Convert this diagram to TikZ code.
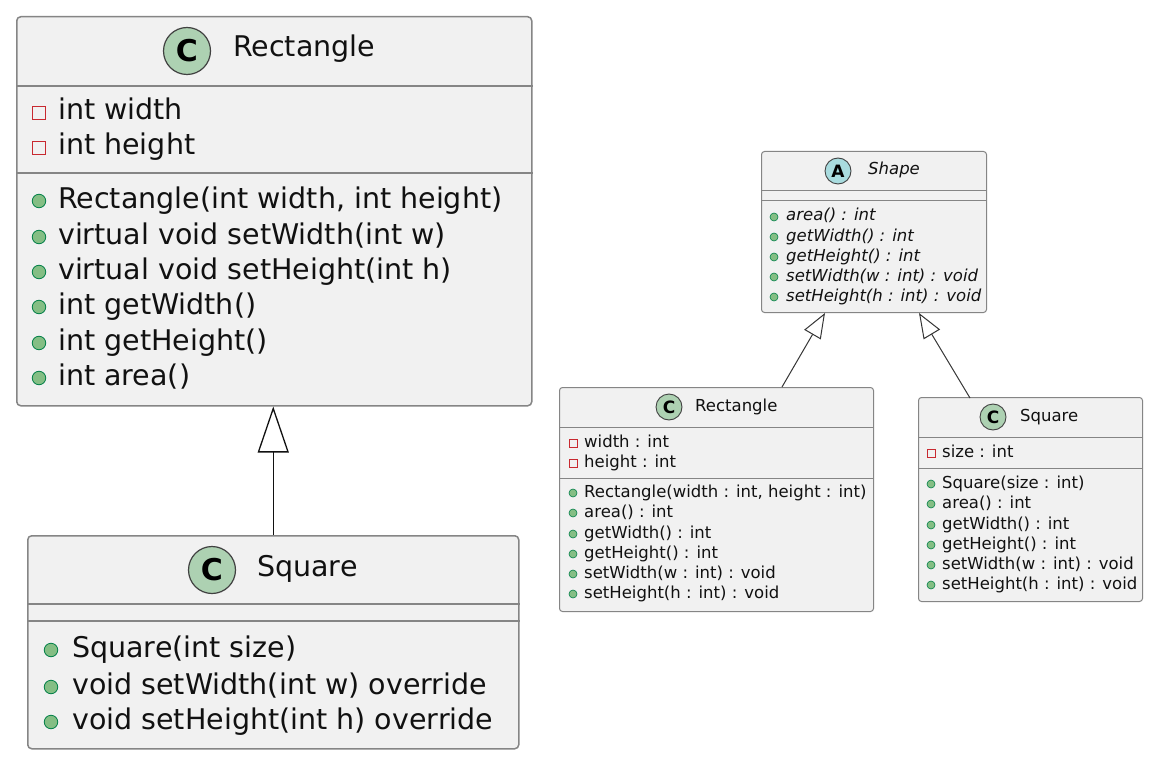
\documentclass[tikz,border=0pt]{standalone}
\usepackage{fontspec}
\setmainfont{DejaVu Sans}
\usetikzlibrary{arrows.meta,calc}
\definecolor{boxfill}{HTML}{F1F1F1}
\definecolor{boxline}{HTML}{858585}
\definecolor{cfill}{HTML}{ADD1B2}
\definecolor{afill}{HTML}{A9DCDF}
\definecolor{dotfill}{HTML}{84BE84}
\definecolor{dotline}{HTML}{038048}
\definecolor{privline}{HTML}{C82930}
\definecolor{ink}{HTML}{111111}
\tikzset{
  clsbig/.style={draw=boxline, fill=boxfill, rounded corners=4pt, line width=1.5pt, anchor=north west, inner sep=0pt},
  clssm/.style={draw=boxline, fill=boxfill, rounded corners=3pt, line width=1pt, anchor=north west, inner sep=0pt},
  sepbig/.style={draw=boxline, line width=1.5pt},
  sepsm/.style={draw=boxline, line width=1pt},
  bigtxt/.style={font=\fontsize{28.5}{34}\selectfont, anchor=west, inner sep=0pt, text height=20pt, text depth=6pt, text=ink},
  smtxt/.style={font=\fontsize{16.5}{20}\selectfont, anchor=west, inner sep=0pt, text height=11.5pt, text depth=3.5pt, text=ink},
  pubbig/.style={circle, fill=dotfill, draw=dotline, line width=0.8pt, minimum size=13.5pt, inner sep=0pt},
  pubsm/.style={circle, fill=dotfill, draw=dotline, line width=0.6pt, minimum size=8pt, inner sep=0pt},
  privbig/.style={rectangle, draw=privline, line width=1.3pt, minimum size=13pt, inner sep=0pt},
  privsm/.style={rectangle, draw=privline, line width=0.9pt, minimum size=8pt, inner sep=0pt},
  cbig/.style={circle, fill=cfill, draw=ink!80, line width=1.2pt, minimum size=47pt, inner sep=0pt, font=\fontsize{30}{30}\selectfont\bfseries, text=black},
  csm/.style={circle, fill=cfill, draw=ink!80, line width=0.9pt, minimum size=26pt, inner sep=0pt, font=\fontsize{17}{17}\selectfont\bfseries, text=black},
  asm/.style={circle, fill=afill, draw=ink!80, line width=0.9pt, minimum size=26pt, inner sep=0pt, font=\fontsize{17}{17}\selectfont\bfseries, text=black},
  inhbig/.style={draw=ink, line width=1.3pt, -{Triangle[open, length=46pt, width=31pt]}},
  inhsm/.style={draw=ink!85, line width=1pt, -{Triangle[open, length=25pt, width=19pt]}},
}
\begin{document}
\begin{tikzpicture}[x=1pt, y=-1pt]
\useasboundingbox (0,0) rectangle (1151,762);
\fill[white] (0,0) rectangle (1151,762);

% ---------- Left Rectangle ----------
\node[clsbig, minimum width=515pt, minimum height=389pt] (recL) at (16,16) {};
\draw[sepbig] ([yshift=-70pt]recL.north west) -- ([yshift=-70pt]recL.north east);
\draw[sepbig] ([yshift=-157pt]recL.north west) -- ([yshift=-157pt]recL.north east);
\node[cbig] (recLc) at (187,51) {C};
\node[bigtxt] (recLt) at (233,50) {Rectangle};
\foreach \y/\t [count=\i] in {113/{int width},148/{int height}}{
  \node[privbig] (recLai\i) at (39,\y) {};
  \node[bigtxt] (recLa\i) at (58,\y) {\t};
}
\foreach \y/\t [count=\i] in {201/{Rectangle(int width, int height)},237/{virtual void setWidth(int w)},272/{virtual void setHeight(int h)},307/{int getWidth()},343/{int getHeight()},378/{int area()}}{
  \node[pubbig] (recLmi\i) at (39,\y) {};
  \node[bigtxt] (recLm\i) at (58,\y) {\t};
}

% ---------- Left Square ----------
\node[clsbig, minimum width=491pt, minimum height=213pt] (sqL) at (27,535) {};
\draw[sepbig] ([yshift=-69pt]sqL.north west) -- ([yshift=-69pt]sqL.north east);
\draw[sepbig] ([yshift=-86pt]sqL.north west) -- ([yshift=-86pt]sqL.north east);
\node[cbig] (sqLc) at (212,570) {C};
\node[bigtxt] (sqLt) at (257,569) {Square};
\foreach \y/\t [count=\i] in {650/{Square(int size)},687/{void setWidth(int w) override},722/{void setHeight(int h) override}}{
  \node[pubbig] (sqLmi\i) at (51,\y) {};
  \node[bigtxt] (sqLm\i) at (72,\y) {\t};
}

\draw[inhbig] (sqL.north) -- (sqL.north |- recL.south);

% ---------- Shape ----------
\node[clssm, minimum width=225pt, minimum height=161pt] (shp) at (761,151) {};
\draw[sepsm] ([yshift=-40pt]shp.north west) -- ([yshift=-40pt]shp.north east);
\draw[sepsm] ([yshift=-50pt]shp.north west) -- ([yshift=-50pt]shp.north east);
\node[asm] (shpc) at (838,171) {A};
\node[smtxt, font=\fontsize{16.5}{20}\selectfont\itshape] (shpt) at (868,171) {Shape};
\foreach \y/\t [count=\i] in {217/{area() : int},237/{getWidth() : int},257/{getHeight() : int},277/{setWidth(w : int) : void},297/{setHeight(h : int) : void}}{
  \node[pubsm] (shpmi\i) at (774,\y) {};
  \node[smtxt, font=\fontsize{16.5}{20}\selectfont\itshape] (shpm\i) at (786,\y) {\t};
}

% ---------- Right Rectangle ----------
\node[clssm, minimum width=314pt, minimum height=224pt] (recR) at (559,387) {};
\draw[sepsm] ([yshift=-40pt]recR.north west) -- ([yshift=-40pt]recR.north east);
\draw[sepsm] ([yshift=-91pt]recR.north west) -- ([yshift=-91pt]recR.north east);
\node[csm] (recRc) at (669,407) {C};
\node[smtxt] (recRt) at (695,407) {Rectangle};
\foreach \y/\t [count=\i] in {443/{width : int},463/{height : int}}{
  \node[privsm] (recRai\i) at (573,\y) {};
  \node[smtxt] (recRa\i) at (584,\y) {\t};
}
\foreach \y/\t [count=\i] in {493/{Rectangle(width : int, height : int)},513/{area() : int},534/{getWidth() : int},554/{getHeight() : int},574/{setWidth(w : int) : void},594/{setHeight(h : int) : void}}{
  \node[pubsm] (recRmi\i) at (573,\y) {};
  \node[smtxt] (recRm\i) at (584,\y) {\t};
}

% ---------- Right Square ----------
\node[clssm, minimum width=224pt, minimum height=204pt] (sqR) at (918,397) {};
\draw[sepsm] ([yshift=-40pt]sqR.north west) -- ([yshift=-40pt]sqR.north east);
\draw[sepsm] ([yshift=-71pt]sqR.north west) -- ([yshift=-71pt]sqR.north east);
\node[csm] (sqRc) at (993,417) {C};
\node[smtxt] (sqRt) at (1020,417) {Square};
\foreach \y/\t [count=\i] in {453/{size : int}}{
  \node[privsm] (sqRai\i) at (931,\y) {};
  \node[smtxt] (sqRa\i) at (942,\y) {\t};
}
\foreach \y/\t [count=\i] in {484/{Square(size : int)},504/{area() : int},525/{getWidth() : int},545/{getHeight() : int},565/{setWidth(w : int) : void},585/{setHeight(h : int) : void}}{
  \node[pubsm] (sqRmi\i) at (931,\y) {};
  \node[smtxt] (sqRm\i) at (942,\y) {\t};
}

% ---------- connectors ----------
\coordinate (r1s) at ([xshift=223pt]recR.north west);
\coordinate (r1e) at ([xshift=64pt]shp.south west);
\coordinate (r2s) at ([xshift=52pt,yshift=-1pt]sqR.north west);
\coordinate (r2e) at ([xshift=158pt]shp.south west);
\draw[inhsm] (r1s) -- (r1e);
\draw[inhsm] (r2s) -- (r2e);
\end{tikzpicture}
\end{document}
